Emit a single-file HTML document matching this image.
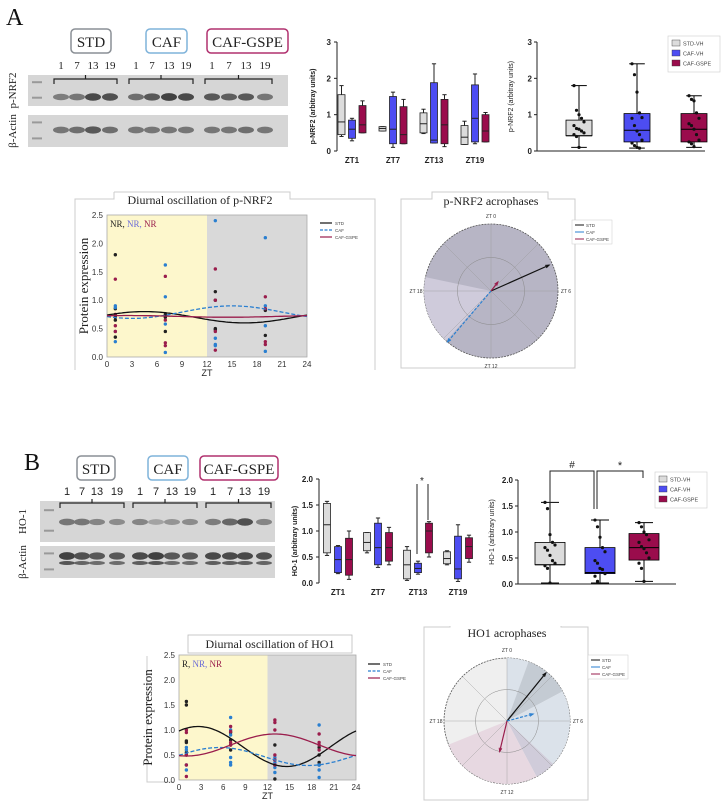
<!DOCTYPE html>
<html><head><meta charset="utf-8"><style>
html,body{margin:0;padding:0;background:#fff;}
svg{display:block;font-family:"Liberation Sans",sans-serif;}
.serif{font-family:"Liberation Serif",serif;}
</style></head><body>
<svg id="fig" width="726" height="808" viewBox="0 0 726 808" xmlns="http://www.w3.org/2000/svg"></svg>
<script>
// ---------- DATA ----------
const zts = [1, 7, 13, 19];
const groups = ['STD', 'CAF', 'CAF-GSPE'];
const groupColors = ['#dcdcdc', '#4d4df2', '#9a0c4c'];
const lineColors = ['#111111', '#2a7fd0', '#9a1d4c'];
const nrf2ZtStd = [[0.4,0.45,0.8,1.55,1.8],[0.55,0.55,0.62,0.67,0.67],[0.48,0.5,0.75,1.05,1.15],[0.18,0.18,0.38,0.7,0.82]];
const nrf2ZtCaf = [[0.28,0.35,0.6,0.85,0.9],[0.1,0.2,0.6,1.5,1.62],[0.22,0.22,0.3,1.88,2.4],[0.2,0.25,0.9,1.82,2.12]];
const nrf2ZtGspe = [[0.5,0.5,0.72,1.25,1.38],[0.2,0.2,0.45,1.22,1.42],[0.12,0.2,0.72,1.42,1.55],[0.25,0.25,0.55,1.0,1.06]];
const nrf2Pooled = [[0.1,0.42,0.42,0.85,1.8],[0.08,0.25,0.57,1.03,2.4],[0.1,0.25,0.6,1.03,1.52]];
const ho1ZtStd = [[0.53,0.58,1.12,1.53,1.57],[0.58,0.62,0.78,0.97,0.97],[0.05,0.08,0.35,0.63,0.7],[0.35,0.37,0.47,0.6,0.62]];
const ho1ZtCaf = [[0.18,0.2,0.45,0.7,0.72],[0.3,0.35,0.68,1.15,1.25],[0.17,0.2,0.28,0.38,0.42],[0.03,0.08,0.27,0.9,1.12]];
const ho1ZtGspe = [[0.07,0.15,0.45,0.86,1.0],[0.35,0.42,0.68,0.97,1.07],[0.5,0.58,1.0,1.15,1.18],[0.4,0.47,0.7,0.87,0.92]];
const ho1Pooled = [[0.02,0.37,0.37,0.8,1.57],[0.02,0.2,0.22,0.7,1.23],[0.05,0.46,0.7,0.97,1.18]];
const nrf2PooledPts = [[1.8,1.12,1.0,0.9,0.8,0.7,0.62,0.6,0.55,0.5,0.45,0.4,0.1],[2.4,2.1,1.62,1.05,0.92,0.9,0.7,0.55,0.45,0.3,0.22,0.15,0.1,0.08],[1.52,1.42,1.38,1.05,0.9,0.75,0.7,0.6,0.45,0.3,0.25,0.2,0.12]];
const ho1PooledPts = [[1.57,1.45,0.95,0.8,0.75,0.7,0.65,0.55,0.45,0.4,0.35,0.3,0.02],[1.23,1.1,0.9,0.7,0.62,0.45,0.4,0.3,0.28,0.2,0.15,0.05],[1.18,1.1,1.0,0.95,0.85,0.8,0.72,0.68,0.6,0.5,0.4,0.3,0.05]];
const nrf2PtsStd = [[1.8,0.85,0.7,0.65,0.35],[0.75,0.7,0.45],[1.15,1.0,0.5,0.48],[0.82,0.38]];
const nrf2PtsCaf = [[0.9,0.87,0.45,0.27],[1.62,1.06,0.58,0.08],[2.4,0.33,0.22,0.2],[2.1,0.9,0.55,0.1]];
const nrf2PtsGspe = [[1.37,0.75,0.55,0.45],[1.42,0.65,0.25,0.2],[1.55,1.0,0.45,0.12],[1.06,0.85,0.27,0.22]];
const ho1PtsStd = [[1.57,1.5,0.78,0.75,0.55,0.5],[0.95,0.8,0.7,0.6],[0.7,0.4,0.3,0.02],[0.65,0.5,0.35,0.3]];
const ho1PtsCaf = [[0.65,0.6,0.3,0.2],[1.25,1.0,0.9,0.45,0.35,0.3],[0.45,0.35,0.25,0.15],[1.1,0.3,0.2,0.05]];
const ho1PtsGspe = [[1.0,0.95,0.5,0.3,0.07],[1.07,0.97,0.75,0.7],[1.2,1.15,1.0,0.5,0.4,0.3],[0.92,0.75,0.7,0.6]];
const nrf2Mesor = [0.7, 0.79, 0.715];
const nrf2Amp = [0.1, 0.11, 0.015];
const nrf2Acro = [4.5, 15.0, 2.5];
const ho1Mesor = [0.67, 0.47, 0.7];
const ho1Amp = [0.4, 0.18, 0.22];
const ho1Acro = [2.6, 5.5, 13.0];
const nrf2ArrowZt = [4.4, 14.7, 2.5];
const nrf2ArrowLen = [0.95, 1.0, 0.17];
const ho1ArrowZt = [2.6, 5.0, 12.9];
const ho1ArrowLen = [0.98, 0.43, 0.5];
const yTicks25 = [0, 0.5, 1.0, 1.5, 2.0, 2.5];
const yTickLabels25 = ['0.0','0.5','1.0','1.5','2.0','2.5'];
const xTicks24 = [0,3,6,9,12,15,18,21,24];
const ticks3 = [0,1,2,3];
const ticks2 = [0,0.5,1.0,1.5,2.0];
const ticks2Labels = ['0.0','0.5','1.0','1.5','2.0'];
const ztLabels = ['ZT1','ZT7','ZT13','ZT19'];

// ---------- HELPERS ----------
const NS = 'http://www.w3.org/2000/svg';
const fig = document.getElementById('fig');
function mk(tag, attrs, parent, name, inter) {
  const el = document.createElementNS(NS, tag);
  for (const k in attrs) el.setAttribute(k, attrs[k]);
  
  
  (parent || fig).appendChild(el);
  return el;
}
function txt(x, y, s, size, parent, name, extra) {
  const a = Object.assign({x: x, y: y, 'font-size': size, fill: '#222'}, extra || {});
  const t = mk('text', a, parent, name);
  t.textContent = s;
  return t;
}
function lin(d0, d1, r0, r1) { return v => r0 + (v - d0) / (d1 - d0) * (r1 - r0); }

// ---------- WESTERN BLOTS ----------
function blotPanel(opts) {
  const g = mk('g', {}, fig, opts.name);
  txt(opts.letterX, opts.letterY, opts.letter, 24, g, 'panel-letter', {class: 'serif', fill: '#111'});
  const bw = opts.boxes;
  const bcol = ['#8a8f95', '#7fb3da', '#b0306e'];
  for (let i = 0; i < 3; i++) {
    mk('rect', {x: bw[i][0], y: opts.boxY, width: bw[i][1] - bw[i][0], height: 24, rx: 4, fill: '#fff', stroke: bcol[i], 'stroke-width': 1.5}, g, 'group-label-box');
    txt((bw[i][0] + bw[i][1]) / 2, opts.boxY + 18, groups[i], 15, g, 'group-label', {class: 'serif', 'text-anchor': 'middle'});
  }
  opts.lanes.forEach((lx, i) => {
    txt(lx, opts.numY, String(zts[i % 4]), 11, g, 'lane-number', {class: opts.serifNums ? 'serif' : '', 'text-anchor': 'middle'});
  });
  opts.blots.forEach((b) => {
    mk('rect', {x: opts.blotX0, y: b.y, width: opts.blotX1 - opts.blotX0, height: b.h, fill: '#d6d6d6'}, g, 'blot-membrane');
    mk('rect', {x: opts.blotX0 + 4, y: b.y + b.h * 0.2, width: 10, height: 2, fill: '#999'}, g, 'ladder-band');
    mk('rect', {x: opts.blotX0 + 4, y: b.y + b.h * 0.7, width: 10, height: 2, fill: '#999'}, g, 'ladder-band');
    opts.lanes.forEach((lx, i) => {
      const v = b.int[i];
      const c = Math.round(200 - v * 150);
      mk('ellipse', {cx: lx, cy: b.y + b.band, rx: 8, ry: 2.5 + v * 1.5, fill: `rgb(${c},${c},${c})`}, g, 'protein-band');
      if (b.band2) mk('ellipse', {cx: lx, cy: b.y + b.band2, rx: 8, ry: 2, fill: `rgb(${c + 20},${c + 20},${c + 20})`}, g, 'protein-band');
    });
    txt(0, 0, b.label, 11, g, 'blot-label', {class: 'serif', transform: `translate(${opts.labelX},${b.y + b.h / 2}) rotate(-90)`, 'text-anchor': 'middle'});
  });
  for (let i = 0; i < 3; i++) {
    const x0 = opts.lanes[i * 4] - 7, x1 = opts.lanes[i * 4 + 3] + 7, y = opts.brY;
    mk('path', {d: `M${x0},${y + 5}V${y}H${x1}V${y + 5}M${(x0 + x1) / 2},${y}V${y - 4}`, fill: 'none', stroke: '#222', 'stroke-width': 1.2}, g, 'lane-bracket');
  }
  return g;
}
blotPanel({name: 'blot-panel-a', letter: 'A', letterX: 6, letterY: 25, boxes: [[71, 111], [146, 187], [207, 288]], boxY: 29,
  lanes: [61, 77, 93, 110, 136, 152, 169, 186, 212, 229, 246, 265], numY: 69, brY: 79, serifNums: true,
  blotX0: 28, blotX1: 288, labelX: 16,
  blots: [{y: 75, h: 31, band: 22, label: 'p-NRF2', int: [0.5, 0.55, 0.85, 0.8, 0.6, 0.75, 0.9, 0.85, 0.75, 0.7, 0.75, 0.55]},
          {y: 115, h: 32, band: 15, label: 'β-Actin', int: [0.55, 0.6, 0.75, 0.6, 0.55, 0.55, 0.55, 0.55, 0.55, 0.55, 0.6, 0.55]}]});
blotPanel({name: 'blot-panel-b', letter: 'B', letterX: 24, letterY: 470, boxes: [[77, 115], [148, 188], [200, 278]], boxY: 456,
  lanes: [67, 82, 97, 117, 140, 156, 172, 190, 213, 230, 245, 264], numY: 495, brY: 503, serifNums: false,
  blotX0: 40, blotX1: 275, labelX: 26,
  blots: [{y: 501, h: 41, band: 21, label: 'HO-1', int: [0.55, 0.55, 0.45, 0.4, 0.45, 0.25, 0.35, 0.4, 0.5, 0.65, 0.8, 0.45]},
          {y: 546, h: 32, band: 10, band2: 17, label: 'β-Actin', int: [0.9, 0.8, 0.75, 0.75, 0.85, 0.9, 0.75, 0.75, 0.85, 0.85, 0.85, 0.8]}]});

// ---------- BOX PLOTS ----------
function drawBox(g, y, cx, w, s, color, name, dark) {
  const sc = dark ? '#000' : '#222';
  mk('line', {x1: cx, x2: cx, y1: y(s[0]), y2: y(s[4]), stroke: sc, 'stroke-width': 1}, g, name + '-whisker');
  mk('line', {x1: cx - w * 0.3, x2: cx + w * 0.3, y1: y(s[4]), y2: y(s[4]), stroke: sc, 'stroke-width': 1}, g, name + '-cap');
  mk('line', {x1: cx - w * 0.3, x2: cx + w * 0.3, y1: y(s[0]), y2: y(s[0]), stroke: sc, 'stroke-width': 1}, g, name + '-cap');
  mk('rect', {x: cx - w / 2, y: y(s[3]), width: w, height: Math.max(1, y(s[1]) - y(s[3])), fill: color, stroke: sc, 'stroke-width': 0.8}, g, name);
  mk('line', {x1: cx - w / 2, x2: cx + w / 2, y1: y(s[2]), y2: y(s[2]), stroke: sc, 'stroke-width': 1}, g, name + '-median');
}
function ztBoxChart(o) {
  const g = mk('g', {}, fig, o.name);
  const y = lin(0, o.ymax, o.y0, o.ytop);
  mk('line', {x1: o.ax, x2: o.ax, y1: o.y0, y2: y(o.ymax), stroke: '#222'}, g, 'y-axis');
  o.ticks.forEach((t, i) => {
    mk('line', {x1: o.ax - 3, x2: o.ax, y1: y(t), y2: y(t), stroke: '#222'}, g, 'y-tick');
    txt(o.ax - 6, y(t) + 3, o.tickLabels[i], 8, g, 'y-tick-label', {'text-anchor': 'end', 'font-weight': 'bold'});
  });
  txt(0, 0, o.ylabel, 7, g, 'y-axis-title', {transform: `translate(${o.ax - 22},${(o.y0 + y(o.ymax)) / 2 + 10}) rotate(-90)`, 'text-anchor': 'middle', 'font-weight': 'bold'});
  const sets = [o.std, o.caf, o.gspe];
  zts.forEach((z, i) => {
    const c = o.gx0 + i * o.gstep;
    sets.forEach((s, k) => drawBox(g, y, c + (k - 1) * o.off, o.bw, s[i], groupColors[k], 'box-' + ztLabels[i].toLowerCase() + '-' + k, false));
    txt(c, o.labY, ztLabels[i], 8, g, 'x-tick-label', {'text-anchor': 'middle', 'font-weight': 'bold'});
  });
  return {g, y};
}
ztBoxChart({name: 'nrf2-zt-boxplot', ax: 337, y0: 151, ytop: 42, ymax: 3, ticks: ticks3, tickLabels: ['0','1','2','3'],
  ylabel: 'p-NRF2 (arbitray units)', std: nrf2ZtStd, caf: nrf2ZtCaf, gspe: nrf2ZtGspe, gx0: 352, gstep: 41, off: 10.5, bw: 7, labY: 163});
const hoZt = ztBoxChart({name: 'ho1-zt-boxplot', ax: 319, y0: 583, ytop: 479, ymax: 2, ticks: ticks2, tickLabels: ticks2Labels,
  ylabel: 'HO-1 (arbitrary units)', std: ho1ZtStd, caf: ho1ZtCaf, gspe: ho1ZtGspe, gx0: 338, gstep: 40, off: 11, bw: 7, labY: 595});
mk('line', {x1: 417, x2: 417, y1: 484, y2: 554, stroke: '#222'}, hoZt.g, 'significance-line');
mk('line', {x1: 428, x2: 428, y1: 484, y2: 520, stroke: '#222'}, hoZt.g, 'significance-line');
txt(422, 484, '*', 10, hoZt.g, 'significance-star', {'text-anchor': 'middle'});

function pooledChart(o) {
  const g = mk('g', {}, fig, o.name);
  const y = lin(0, o.ymax, o.y0, o.ytop);
  mk('line', {x1: o.ax, x2: o.ax, y1: o.y0, y2: y(o.ymax), stroke: '#222'}, g, 'y-axis');
  mk('line', {x1: o.ax, x2: o.xend, y1: o.y0, y2: o.y0, stroke: '#222'}, g, 'x-axis');
  o.ticks.forEach((t, i) => {
    mk('line', {x1: o.ax - 3, x2: o.ax, y1: y(t), y2: y(t), stroke: '#222'}, g, 'y-tick');
    txt(o.ax - 5, y(t) + 3, o.tickLabels[i], 8, g, 'y-tick-label', {'text-anchor': 'end', 'font-weight': 'bold'});
  });
  txt(0, 0, o.ylabel, 7, g, 'y-axis-title', {transform: `translate(${o.ax - 24},${(o.y0 + y(o.ymax)) / 2}) rotate(-90)`, 'text-anchor': 'middle'});
  o.stats.forEach((s, k) => {
    drawBox(g, y, o.cx[k], o.bw, s, groupColors[k], 'pooled-box-' + k, true);
    o.pts[k].forEach((v, j) => {
      mk('circle', {cx: o.cx[k] + ((j % 5) - 2) * 2.5, cy: y(v), r: 1.6, fill: '#111'}, g, 'data-point');
    });
  });
  const lg = mk('g', {}, g, 'legend');
  mk('rect', {x: o.lx, y: o.ly, width: 52, height: 36, fill: '#fff', stroke: '#ccc', 'stroke-width': 0.6}, lg, 'legend-frame');
  const ln = ['STD-VH', 'CAF-VH', 'CAF-GSPE'];
  ln.forEach((n, k) => {
    mk('rect', {x: o.lx + 4, y: o.ly + 4 + k * 10, width: 8, height: 6, fill: groupColors[k], stroke: '#333', 'stroke-width': 0.4}, lg, 'legend-swatch');
    txt(o.lx + 15, o.ly + 9.5 + k * 10, n, 5.5, lg, 'legend-entry', {fill: '#444'});
  });
  return {g, y};
}
pooledChart({name: 'nrf2-pooled-boxplot', ax: 537, y0: 151, ytop: 42, ymax: 3, xend: 705, ticks: ticks3, tickLabels: ['0','1','2','3'],
  ylabel: 'p-NRF2 (arbitray units)', stats: nrf2Pooled, pts: nrf2PooledPts, cx: [579, 637, 694], bw: 26, lx: 668, ly: 36});
const hoP = pooledChart({name: 'ho1-pooled-boxplot', ax: 518, y0: 584, ytop: 480, ymax: 2, xend: 676, ticks: ticks2, tickLabels: ticks2Labels,
  ylabel: 'HO-1 (arbitrary units)', stats: ho1Pooled, pts: ho1PooledPts, cx: [550, 600, 644], bw: 30, lx: 655, ly: 472});
mk('path', {d: 'M550,503V471H594V509M597,509V471H643V478', fill: 'none', stroke: '#222', 'stroke-width': 1}, hoP.g, 'significance-bracket');
txt(572, 468, '#', 10, hoP.g, 'significance-hash', {'text-anchor': 'middle'});
txt(620, 469, '*', 11, hoP.g, 'significance-star', {'text-anchor': 'middle'});

// ---------- DIURNAL OSCILLATION ----------
function diurnal(o) {
  const g = mk('g', {}, fig, o.name);
  const x = lin(0, 24, o.x0, o.x1), y = lin(0, 2.5, o.y0, o.y1);
  if (o.frame) mk('path', {d: o.frame, fill: 'none', stroke: '#ccc', 'stroke-width': 1}, g, 'panel-frame');
  mk('rect', {x: x(0), y: y(2.5), width: x(12) - x(0), height: y(0) - y(2.5), fill: '#fdf7cc'}, g, 'light-phase');
  mk('rect', {x: x(12), y: y(2.5), width: x(24) - x(12), height: y(0) - y(2.5), fill: '#d9d9d9'}, g, 'dark-phase');
  mk('rect', {x: x(0), y: y(2.5), width: x(24) - x(0), height: y(0) - y(2.5), fill: 'none', stroke: '#aaa', 'stroke-width': 0.8}, g, 'plot-frame');
  yTicks25.forEach((t, i) => txt(x(0) - 4, y(t) + 3, yTickLabels25[i], 8, g, 'y-tick-label', {'text-anchor': 'end', fill: '#333'}));
  xTicks24.forEach(t => txt(x(t), y(0) + 10, String(t), 8, g, 'x-tick-label', {'text-anchor': 'middle', fill: '#333'}));
  txt((x(0) + x(24)) / 2, y(0) + 19, 'ZT', 9, g, 'x-axis-title', {'text-anchor': 'middle'});
  txt(0, 0, 'Protein expression', 13, g, 'y-axis-title', {class: 'serif', transform: `translate(${o.ylx},${(y(0) + y(2.5)) / 2}) rotate(-90)`, 'text-anchor': 'middle'});
  const pts = [o.pStd, o.pCaf, o.pGspe];
  const pcol = ['#222', '#2a7fd0', '#9a1d4c'];
  pts.forEach((set, k) => set.forEach((vals, i) => vals.forEach(v => {
    mk('circle', {cx: x(zts[i]), cy: y(v), r: 1.7, fill: pcol[k]}, g, 'data-point-' + groups[k].toLowerCase());
  })));
  for (let k = 0; k < 3; k++) {
    let d = '';
    for (let h = 0; h <= 24; h += 0.25) {
      const v = o.mesor[k] + o.amp[k] * Math.cos(2 * Math.PI * (h - o.acro[k]) / 24);
      d += (h === 0 ? 'M' : 'L') + x(h).toFixed(1) + ',' + y(v).toFixed(1);
    }
    const a = {d: d, fill: 'none', stroke: lineColors[k], 'stroke-width': 1.3};
    if (k === 1) a['stroke-dasharray'] = '4,2';
    mk('path', a, g, 'cosinor-curve-' + groups[k].toLowerCase());
  }
  const ann = mk('text', {x: x(0) + 3, y: y(2.5) + 12, 'font-size': 9, class: 'serif'}, g, 'rhythm-annotation');
  o.ann.forEach((s, k) => {
    const ts = mk('tspan', {fill: ['#222', '#6a6ad8', '#9a1d4c'][k]}, ann, 'rhythm-label');
    ts.textContent = s + (k < 2 ? ', ' : '');
  });
  if (o.titleBox) mk('rect', o.titleBox, g, 'title-box');
  txt(o.tx, o.ty, o.title, 12, g, 'chart-title', {class: 'serif', 'text-anchor': 'middle'});
  const lg = mk('g', {}, g, 'legend');
  ['STD', 'CAF', 'CAF-GSPE'].forEach((n, k) => {
    const a = {x1: o.lx, x2: o.lx + 12, y1: o.ly + k * 7, y2: o.ly + k * 7, stroke: lineColors[k], 'stroke-width': 1.2};
    if (k === 1) a['stroke-dasharray'] = '3,1.5';
    mk('line', a, lg, 'legend-line');
    txt(o.lx + 15, o.ly + 2 + k * 7, n, 4.5, lg, 'legend-entry', {fill: '#444'});
  });
}
diurnal({name: 'nrf2-diurnal-chart', x0: 107, x1: 307, y0: 357, y1: 215, ylx: 88,
  frame: 'M114,192H290V193M114,192V199H75V370M290,193V199H375V370',
  pStd: nrf2PtsStd, pCaf: nrf2PtsCaf, pGspe: nrf2PtsGspe, mesor: nrf2Mesor, amp: nrf2Amp, acro: nrf2Acro,
  ann: ['NR', 'NR', 'NR'], title: 'Diurnal oscillation of p-NRF2', tx: 200, ty: 204, lx: 320, ly: 223});
diurnal({name: 'ho1-diurnal-chart', x0: 179, x1: 356, y0: 780, y1: 655, ylx: 152,
  frame: 'M147,656V782H174',
  pStd: ho1PtsStd, pCaf: ho1PtsCaf, pGspe: ho1PtsGspe, mesor: ho1Mesor, amp: ho1Amp, acro: ho1Acro,
  ann: ['R', 'NR', 'NR'], title: 'Diurnal oscillation of HO1', tx: 270, ty: 648,
  titleBox: {x: 188, y: 635, width: 164, height: 18, fill: '#fff', stroke: '#bbb', 'stroke-width': 0.8}, lx: 368, ly: 664});

// ---------- POLAR ACROPHASES ----------
function polar(o) {
  const g = mk('g', {}, fig, o.name);
  mk('path', {d: o.frame, fill: 'none', stroke: '#ccc', 'stroke-width': 1}, g, 'panel-frame');
  txt(o.cx, o.ty, o.title, 12, g, 'chart-title', {class: 'serif', 'text-anchor': 'middle'});
  const P = (deg, rr) => [o.cx + rr * Math.sin(deg * Math.PI / 180), o.cy - rr * Math.cos(deg * Math.PI / 180)];
  mk('circle', {cx: o.cx, cy: o.cy, r: o.r, fill: o.base, stroke: '#555', 'stroke-width': 0.8, 'stroke-dasharray': '2,1'}, g, 'polar-disc');
  o.wedges.forEach(w => {
    const a = P(w[0], o.r), b = P(w[1], o.r);
    const large = (w[1] - w[0]) > 180 ? 1 : 0;
    mk('path', {d: `M${o.cx},${o.cy}L${a[0]},${a[1]}A${o.r},${o.r} 0 ${large} 1 ${b[0]},${b[1]}Z`, fill: w[2]}, g, 'confidence-wedge');
  });
  mk('circle', {cx: o.cx, cy: o.cy, r: o.r * 0.5, fill: 'none', stroke: '#888', 'stroke-width': 0.5}, g, 'polar-gridline');
  for (let d = 0; d < 360; d += 45) {
    const e = P(d, o.r);
    mk('line', {x1: o.cx, y1: o.cy, x2: e[0], y2: e[1], stroke: '#999', 'stroke-width': 0.4}, g, 'polar-spoke');
  }
  [['ZT 0', 0], ['ZT 6', 90], ['ZT 12', 180], ['ZT 18', 270]].forEach(l => {
    const p = P(l[1], o.r + 8);
    txt(p[0], p[1] + 2, l[0], 5, g, 'angle-label', {'text-anchor': 'middle', fill: '#333'});
  });
  for (let k = 0; k < 3; k++) {
    const deg = o.zt[k] / 24 * 360;
    const e = P(deg, o.r * o.len[k]);
    const a = {x1: o.cx, y1: o.cy, x2: e[0], y2: e[1], stroke: lineColors[k], 'stroke-width': 1.2};
    if (k === 1) a['stroke-dasharray'] = '3,1.5';
    mk('line', a, g, 'acrophase-arrow-' + groups[k].toLowerCase());
    const h1 = P(deg + 180 - 20, 4), h2 = P(deg + 180 + 20, 4);
    mk('path', {d: `M${e[0] + h1[0] - o.cx},${e[1] + h1[1] - o.cy}L${e[0]},${e[1]}L${e[0] + h2[0] - o.cx},${e[1] + h2[1] - o.cy}`, fill: 'none', stroke: lineColors[k], 'stroke-width': 1}, g, 'arrow-head');
  }
  const lg = mk('g', {}, g, 'legend');
  mk('rect', {x: o.lx, y: o.ly, width: 40, height: 24, fill: '#fff', stroke: '#ccc', 'stroke-width': 0.5}, lg, 'legend-frame');
  ['STD', 'CAF', 'CAF-GSPE'].forEach((n, k) => {
    mk('line', {x1: o.lx + 3, x2: o.lx + 12, y1: o.ly + 5 + k * 7, y2: o.ly + 5 + k * 7, stroke: lineColors[k], 'stroke-width': 1}, lg, 'legend-line');
    txt(o.lx + 14, o.ly + 7 + k * 7, n, 4.5, lg, 'legend-entry', {fill: '#444'});
  });
}
polar({name: 'nrf2-acrophase-polar', cx: 491, cy: 291, r: 67, ty: 205, title: 'p-NRF2 acrophases', base: '#b7b5c5',
  frame: 'M432,192H548V199H575V368H401V199H432Z',
  wedges: [[222, 282, '#cfcbdb']], zt: nrf2ArrowZt, len: nrf2ArrowLen, lx: 572, ly: 220});
polar({name: 'ho1-acrophase-polar', cx: 507, cy: 721, r: 63, ty: 637, title: 'HO1 acrophases', base: '#efefef',
  frame: 'M450,626V627H424V800H588V627H561V626',
  wedges: [[0, 20, '#dbe2ea'], [20, 62, '#c4cbd3'], [62, 133, '#dbe2ea'], [133, 152, '#d0ccda'], [152, 248, '#e7d8e1']],
  zt: ho1ArrowZt, len: ho1ArrowLen, lx: 588, ly: 655});
</script>
</body></html>
